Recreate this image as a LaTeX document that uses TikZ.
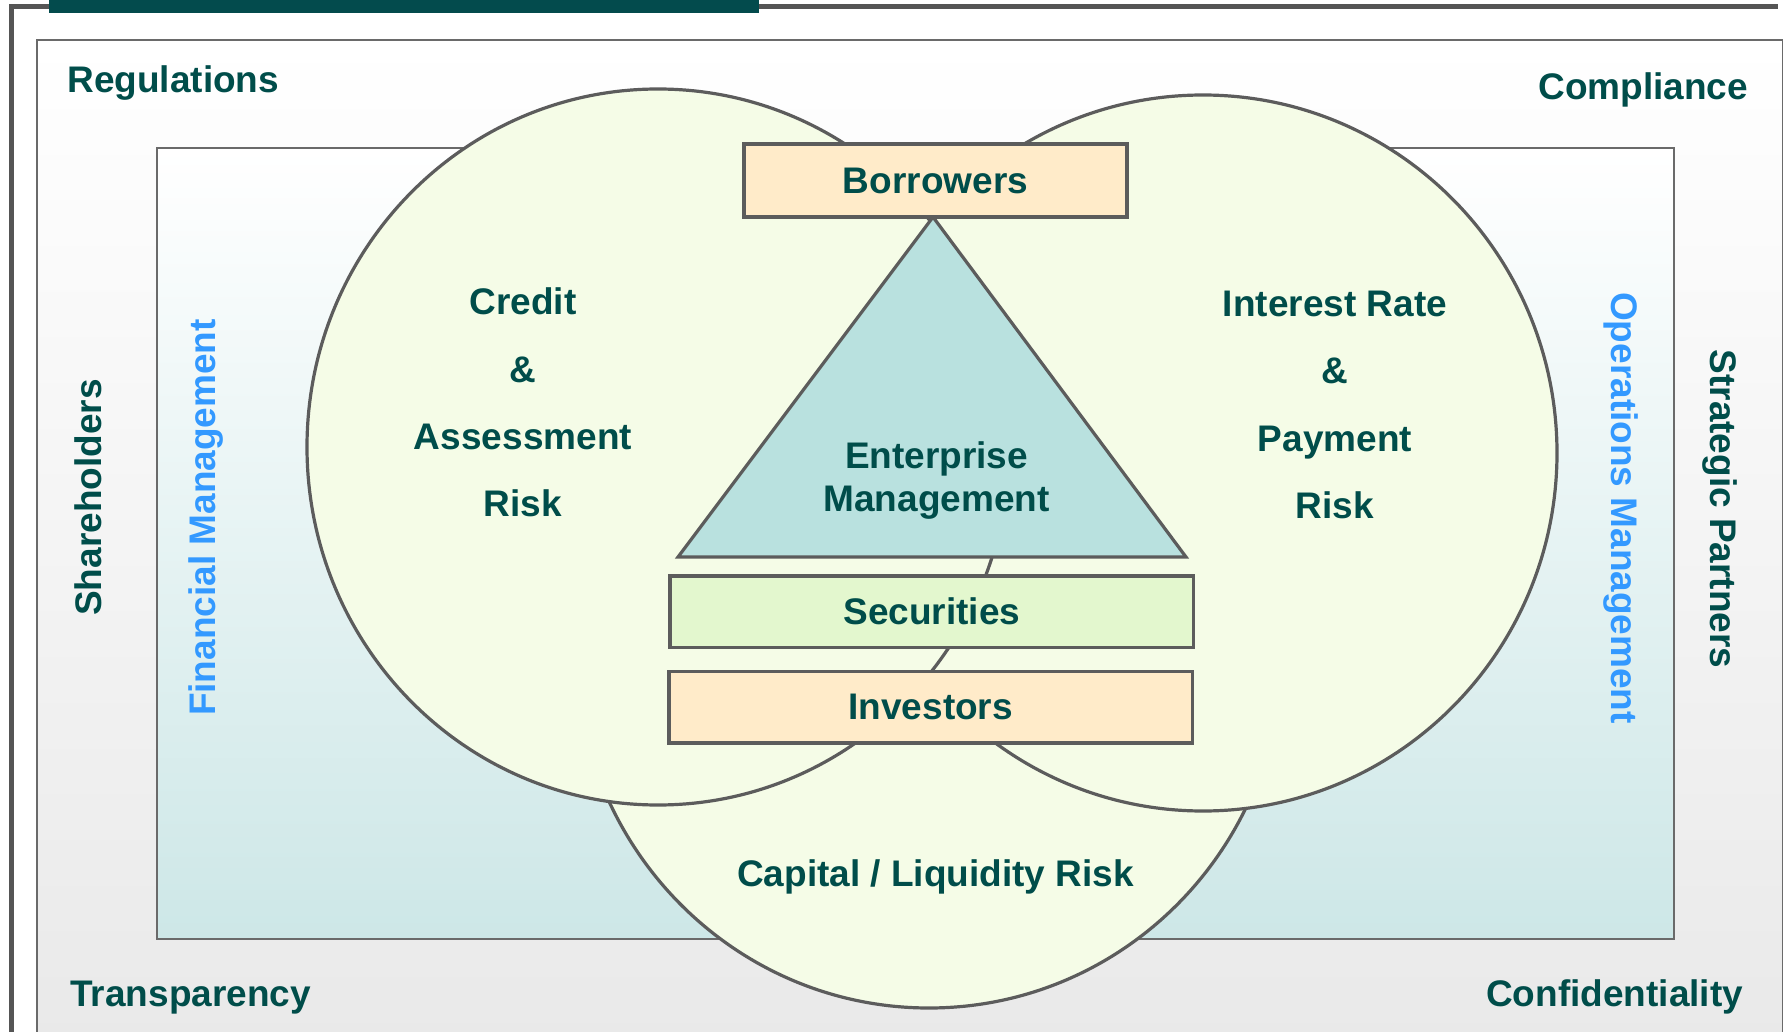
\documentclass[tikz,border=0pt]{standalone}
\usepackage{fontspec}
\setmainfont{Liberation Sans}
\definecolor{txt}{HTML}{004D4A}
\definecolor{blu}{HTML}{3399FF}
\definecolor{edge}{HTML}{5C5C5C}
\definecolor{ringfill}{HTML}{F5FCE7}
\definecolor{trifill}{HTML}{B9E1DF}
\definecolor{peach}{HTML}{FFEBC9}
\definecolor{secfill}{HTML}{E3F7CE}
\definecolor{outerbot}{HTML}{E9E9E9}
\definecolor{innerbot}{HTML}{CDE7E7}
\definecolor{frameline}{HTML}{555555}
\definecolor{framethin}{HTML}{6A6A6A}
\definecolor{topbar}{HTML}{034B4D}
\begin{document}
\begin{tikzpicture}[x=0.5pt,y=-0.5pt,
  lbl/.style={inner sep=0pt, text=txt, font=\fontsize{18.5}{22}\selectfont\bfseries, anchor=base},
  bluelbl/.style={lbl, text=blu},
  box/.style={draw=edge, line width=1.8pt, inner sep=0pt, text=txt, font=\fontsize{18.5}{22}\selectfont\bfseries},
  ring/.style={draw=edge, line width=1.6pt, fill=ringfill}]
\useasboundingbox (0,0) rectangle (1784,1032);
\begin{scope}
\clip (0,0) rectangle (1784,1032);
% outer area
\shade[top color=white, bottom color=outerbot] (36.7,40) rectangle (1782.5,1045);
\draw[draw=framethin, line width=0.8pt] (36.7,1045) -- (36.7,40) -- (1782.5,40) -- (1782.5,1045);
% frame line and bar
\draw[draw=frameline, line width=2.5pt] (11.5,1045) -- (11.5,7) -- (1777.5,7);
\fill[topbar] (48.5,-5) rectangle (758.7,12.7);
% inner rectangle
\shade[top color=white, bottom color=innerbot] (157,148.5) rectangle (1673.5,939);
\draw[draw=framethin, line width=1pt] (157,148.5) rectangle (1673.5,939);
% circles
\draw[ring] (929,650) ellipse [x radius=353, y radius=358];
\draw[ring] (1203,453) ellipse [x radius=354, y radius=358];
\draw[ring] (658,447) ellipse [x radius=351, y radius=358];
\end{scope}
% corner labels
\node[lbl, anchor=base west] (regulations) at (67,93) {Regulations};
\node[lbl, anchor=base east] (compliance) at (1748.5,100) {Compliance};
\node[lbl, anchor=base west] (transparency) at (70,1006.5) {Transparency};
\node[lbl, anchor=base east] (confidentiality) at (1743.5,1006.5) {Confidentiality};
% side labels
\node[lbl, rotate=90] (shareholders) at (101,497.5) {Shareholders};
\node[bluelbl, rotate=90] (finmgmt) at (215.5,517.5) {Financial Management};
\node[bluelbl, rotate=-90] (opsmgmt) at (1611.5,508) {Operations Management};
\node[lbl, rotate=-90] (partners) at (1710,509) {Strategic Partners};
% circle labels
\node[lbl] (credit1) at (523,315) {Credit};
\node[lbl] (credit2) at (523,382.5) {\&};
\node[lbl] (credit3) at (523,449.5) {Assessment};
\node[lbl] (credit4) at (523,516.5) {Risk};
\node[lbl] (rate1) at (1335,316.5) {Interest Rate};
\node[lbl] (rate2) at (1335,384) {\&};
\node[lbl] (rate3) at (1335,451.5) {Payment};
\node[lbl] (rate4) at (1335,518.5) {Risk};
\node[lbl] (capital) at (935.5,886.5) {Capital / Liquidity Risk};
% triangle
\coordinate (apex) at (933,217);
\coordinate (baseleft) at (678,557);
\coordinate (baseright) at (1186,557);
\draw[draw=edge, line width=1.6pt, fill=trifill] (apex) -- (baseleft) -- (baseright) -- cycle;
\node[lbl] (ent1) at (936.5,468.5) {Enterprise};
\node[lbl] (ent2) at (936.5,511.5) {Management};
% boxes
\node[box, fill=peach, minimum width=191.5pt, minimum height=36.5pt] (borrowers) at (935.5,180.5) {Borrowers};
\node[box, fill=secfill, minimum width=261.7pt, minimum height=35.9pt] (securities) at (931.9,611.6) {Securities};
\node[box, fill=peach, minimum width=261.7pt, minimum height=35.9pt] (investors) at (930.7,707.2) {Investors};
\end{tikzpicture}
\end{document}
